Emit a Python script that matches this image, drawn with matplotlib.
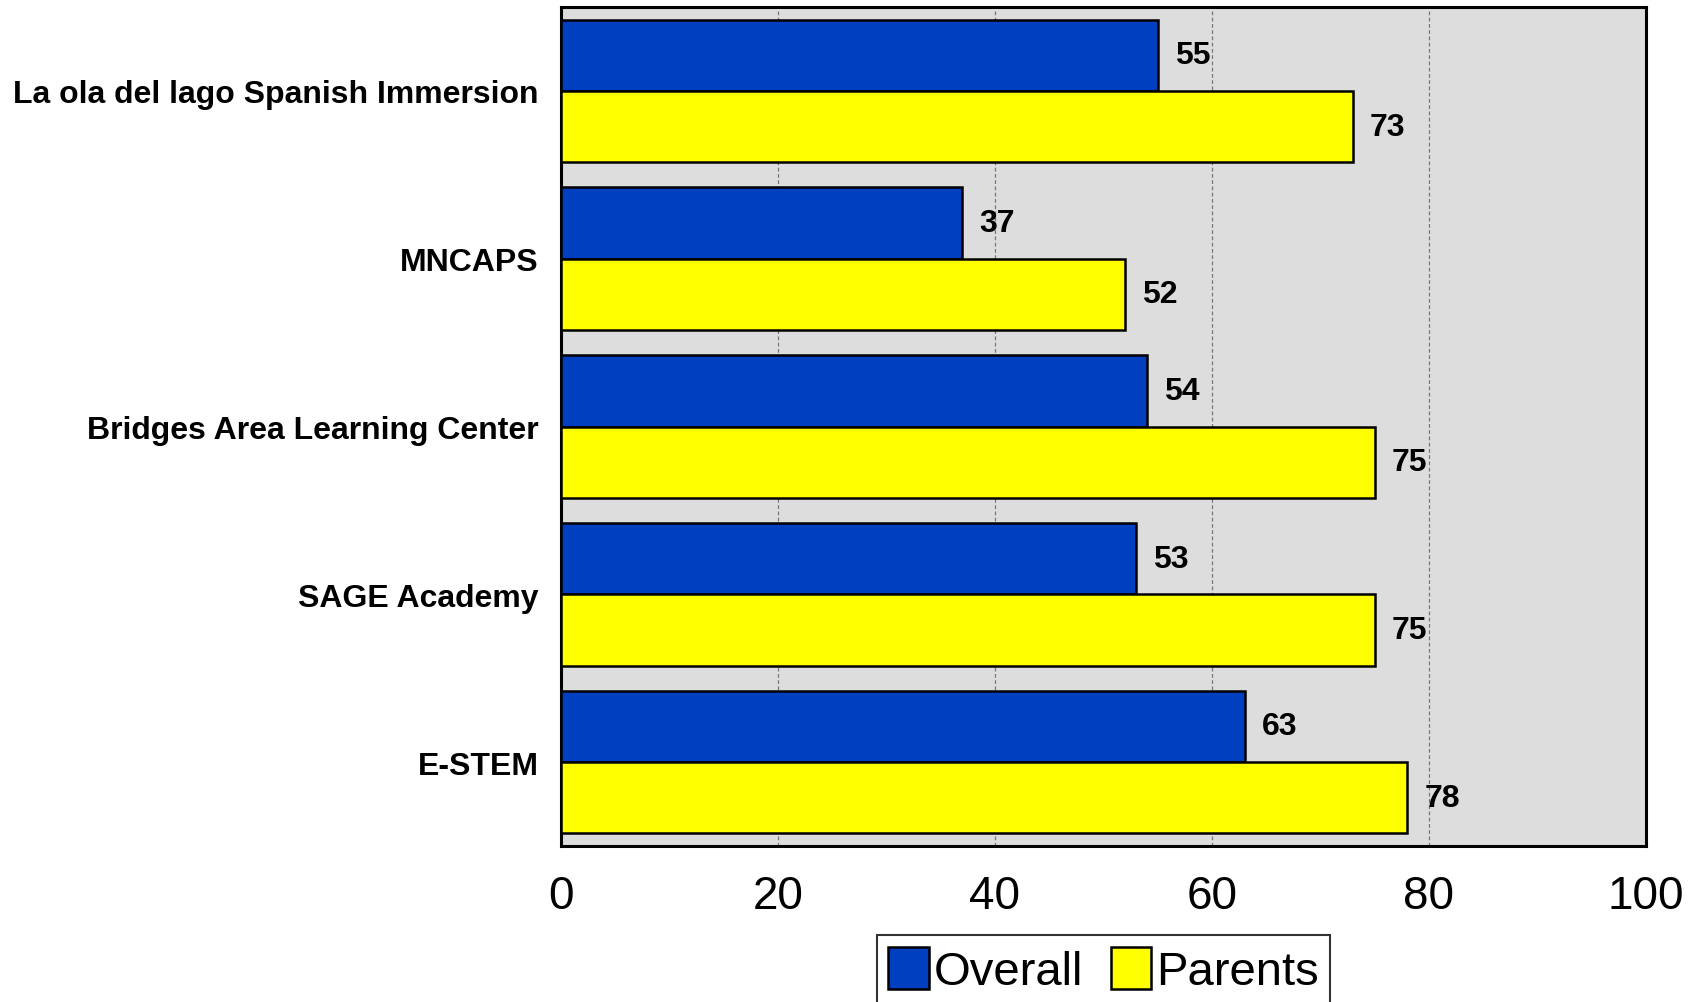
import matplotlib
matplotlib.use("Agg")
import matplotlib.pyplot as plt
import numpy as np

categories = ["La ola del lago Spanish Immersion", "MNCAPS", "Bridges Area Learning Center",
              "SAGE Academy", "E-STEM"]
overall = [55, 37, 54, 53, 63]
parents = [73, 52, 75, 75, 78]
series_names = ["Overall", "Parents"]
xticks = [0, 20, 40, 60, 80, 100]

plt.rcParams['font.family'] = ['Liberation Sans', 'DejaVu Sans']

fig = plt.figure(figsize=(17.03, 10.03), dpi=100)
ax = fig.add_axes([0.3294, 0.1555, 0.9665 - 0.3294, 0.992 - 0.1555])
ax.set_facecolor('#DDDDDD')

y = np.arange(len(categories))
h = 0.425
b1 = ax.barh(y - h / 2, overall, height=h, color='#0040C0', edgecolor='black', linewidth=1.8,
             label=series_names[0], zorder=3)
b2 = ax.barh(y + h / 2, parents, height=h, color='#FFFF00', edgecolor='black', linewidth=1.8,
             label=series_names[1], zorder=3)

for bars, vals in ((b1, overall), (b2, parents)):
    for rect, v in zip(bars, vals):
        ax.annotate(f"{v}", xy=(v, rect.get_y() + rect.get_height() / 2),
                    xytext=(17, 0), textcoords='offset pixels',
                    ha='left', va='center', fontsize=23, fontweight='bold', zorder=4)

ax.set_xlim(0, 100)
ax.set_ylim(len(categories) - 0.5, -0.5)
ax.set_xticks(xticks)
ax.set_xticklabels([str(t) for t in xticks], fontsize=33)
ax.set_yticks(y)
ax.set_yticklabels(categories, fontsize=23, fontweight='bold')
ax.tick_params(axis='x', length=0, pad=20)
ax.tick_params(axis='y', length=0, pad=16)
ax.xaxis.grid(True, color='#777777', linestyle=(0, (3, 2)), linewidth=0.9, zorder=1)
ax.set_axisbelow(True)
for s in ax.spines.values():
    s.set_linewidth(2.2)
    s.set_color('black')

leg = fig.legend(handles=[b1, b2], labels=series_names, loc='upper center',
                 bbox_to_anchor=(0.648, 0.067), ncol=2, fontsize=34, frameon=True,
                 fancybox=False, edgecolor='black', handlelength=0.85, handleheight=1.0,
                 handletextpad=0.1, columnspacing=0.6, borderpad=0.25, borderaxespad=0)
leg.get_frame().set_linewidth(1.5)

fig.savefig("out.png", dpi=100)
